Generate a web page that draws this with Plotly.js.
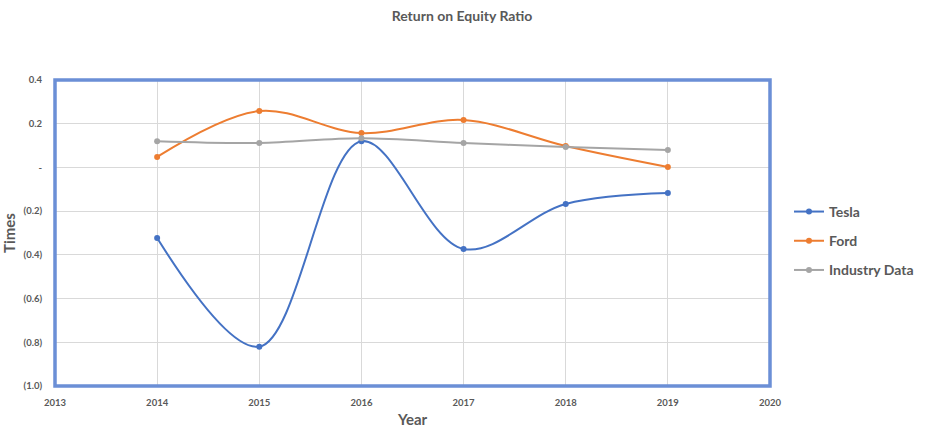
<!DOCTYPE html>
<html>
<head>
<meta charset="utf-8">
<script src="https://cdn.plot.ly/plotly-3.0.1.min.js"></script>
<style>
  html, body { margin: 0; padding: 0; background: #fff; }
  #chart { width: 929px; height: 446px; }
</style>
</head>
<body>
<div id="chart"></div>
<script>
// Return on equity by year
const years = [2014, 2015, 2016, 2017, 2018, 2019];
const tesla = [-0.323, -0.82, 0.12, -0.373, -0.167, -0.117];
const ford = [0.048, 0.258, 0.157, 0.217, 0.098, 0.002];
const industry = [0.12, 0.112, 0.134, 0.112, 0.093, 0.08];

const yTicks = [0.4, 0.2, 0, -0.2, -0.4, -0.6, -0.8, -1.0];
const yTickText = ['0.4', '0.2', '-', '(0.2)', '(0.4)', '(0.6)', '(0.8)', '(1.0)'];
const xTicks = [2013, 2014, 2015, 2016, 2017, 2018, 2019, 2020];

const textColor = '#595959';
const font = 'Lato, "Open Sans", sans-serif';

function series(name, y, color) {
    return {
        x: years,
        y: y,
        name: '<b>' + name + '</b>',
        legendgroup: name,
        type: 'scatter',
        mode: 'lines+markers',
        line: { color: color, width: 2, shape: 'spline', smoothing: 1 },
        marker: { color: color, size: 6 },
    };
}

const traces = [
    series('Tesla', tesla, '#4472c4'),
    series('Ford', ford, '#ed7d31'),
    series('Industry Data', industry, '#a5a5a5'),
];

// plot box spans 55..770 px; margins kept small so the legend fits on the right
const layout = {
    width: 929,
    height: 446,
    title: {
        text: '<b>Return on Equity Ratio</b>',
        font: { family: font, size: 14, color: textColor },
        xref: 'container',
        x: 462 / 929,
        xanchor: 'center',
        y: 0.965,
        yanchor: 'middle',
    },
    xaxis: {
        domain: [0, 715 / 854],
        range: [2013, 2020],
        tickvals: xTicks,
        ticktext: xTicks.map(v => '<b>' + v + '</b>'),
        tickfont: { family: font, size: 9.5, color: textColor },
        showgrid: true,
        gridcolor: '#d9d9d9',
        zeroline: false,
        showline: false,
        ticks: 'outside',
        tickcolor: 'rgba(0,0,0,0)',
        ticklen: 8,
        title: {
            text: '<b>Year</b>',
            font: { family: font, size: 15, color: textColor },
            standoff: 7,
        },
    },
    yaxis: {
        range: [-1.0, 0.4],
        tickvals: yTicks,
        ticktext: yTickText.map(v => '<b>' + v + '</b>'),
        tickfont: { family: font, size: 9.5, color: textColor },
        showgrid: true,
        gridcolor: '#d9d9d9',
        zeroline: false,
        showline: false,
        ticks: 'outside',
        tickcolor: 'rgba(0,0,0,0)',
        ticklen: 10,
        title: {
            text: '<b>Times</b>',
            font: { family: font, size: 15, color: textColor },
            standoff: 8,
        },
    },
    legend: {
        x: 734 / 854,
        xanchor: 'left',
        y: 0.474,
        yanchor: 'middle',
        font: { family: font, size: 14, color: textColor },
        tracegroupgap: 8,
        itemwidth: 30,
    },
    shapes: [
        {
            type: 'rect',
            xref: 'x domain', yref: 'y domain',
            x0: 0, x1: 1, y0: 0, y1: 1,
            line: { color: '#6b8fd6', width: 3.5 },
        },
    ],
    plot_bgcolor: '#ffffff',
    paper_bgcolor: '#ffffff',
    margin: { t: 80, r: 20, b: 60, l: 55, autoexpand: false },
    showlegend: true,
};

Plotly.newPlot('chart', traces, layout, { displayModeBar: false, staticPlot: true });
</script>
</body>
</html>
